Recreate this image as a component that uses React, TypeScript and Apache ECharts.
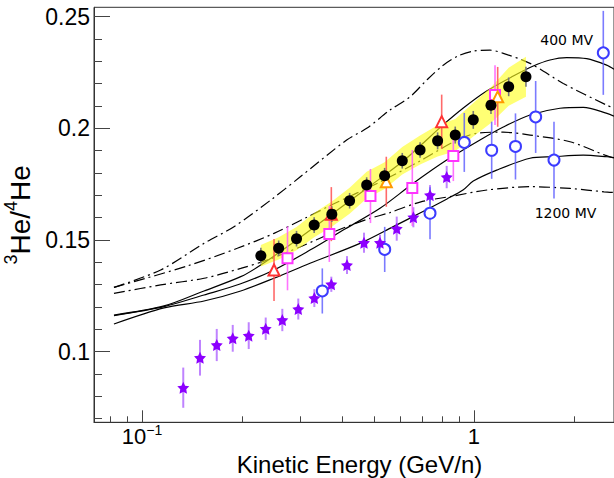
import { useEffect, useRef } from 'react';
import * as echarts from 'echarts';

// ---------- axis ranges & ticks ----------
const X_MIN = 0.07166;
const X_MAX = 2.641;
const Y_MIN = 0.0684;
const Y_MAX = 0.2542;
const X_MAJOR = [0.1, 1];
const X_MINOR = [0.08, 0.09, 0.2, 0.3, 0.4, 0.5, 0.6, 0.7, 0.8, 0.9, 2];
const Y_MAJOR = [0.1, 0.15, 0.2, 0.25];
const Y_MINOR = [0.07, 0.08, 0.09, 0.11, 0.12, 0.13, 0.14, 0.16, 0.17, 0.18, 0.19, 0.21, 0.22, 0.23, 0.24];

// ---------- black points with yellow band ----------
const blackE = [0.228, 0.258, 0.292, 0.33, 0.373, 0.422, 0.475, 0.538, 0.608, 0.688, 0.777, 0.878, 0.995, 1.125, 1.272, 1.434];
const blackV = [0.143, 0.1463, 0.1506, 0.1567, 0.1616, 0.1676, 0.1746, 0.1788, 0.1855, 0.1903, 0.1944, 0.197, 0.2038, 0.2104, 0.2186, 0.2231];
const blackStat = [0.0035, 0.0035, 0.0035, 0.0035, 0.0035, 0.0035, 0.0035, 0.0035, 0.0035, 0.0035, 0.0038, 0.0038, 0.004, 0.004, 0.0042, 0.0045];
const blackBand = [0.0048, 0.005, 0.0052, 0.0054, 0.0056, 0.0058, 0.006, 0.006, 0.0062, 0.0065, 0.007, 0.0072, 0.0075, 0.008, 0.0085, 0.009];

// ---------- violet stars ----------
const starE = [0.1331, 0.1495, 0.1679, 0.1876, 0.2096, 0.2358, 0.2646, 0.2956, 0.3304, 0.3717, 0.4144, 0.4663, 0.521, 0.5851, 0.6567, 0.7371, 0.8275];
const starV = [0.0839, 0.0973, 0.103, 0.106, 0.1072, 0.1103, 0.1142, 0.1191, 0.124, 0.1302, 0.1388, 0.1488, 0.1488, 0.1551, 0.1602, 0.1701, 0.1782];
const starErr = [0.009, 0.008, 0.0072, 0.006, 0.006, 0.005, 0.005, 0.0047, 0.004, 0.0034, 0.004, 0.0045, 0.0036, 0.0054, 0.0045, 0.0045, 0.005];

// ---------- blue open circles ----------
const blueE = [0.3492, 0.5383, 0.7371, 0.9349, 1.1305, 1.3335, 1.5339, 1.7418, 2.4521];
const blueV = [0.1272, 0.1458, 0.162, 0.1937, 0.1902, 0.1919, 0.2051, 0.1858, 0.2338];
const blueErr = [0.0101, 0.0101, 0.0116, 0.0132, 0.0128, 0.0148, 0.0161, 0.0172, 0.0188];

// ---------- magenta open squares ----------
const pinkE = [0.2743, 0.3666, 0.4877, 0.6519, 0.8665, 1.157];
const pinkV = [0.1418, 0.1527, 0.1697, 0.1733, 0.1876, 0.2149];
const pinkErr = [0.0143, 0.0125, 0.0121, 0.017, 0.0112, 0.0134];

// ---------- red / orange open triangles ----------
const redE = [0.2498, 0.3717, 0.7992];
const redV = [0.1366, 0.1616, 0.203];
const redErr = [0.0139, 0.0121, 0.0121];
const orangeE = [0.5443, 1.1786];
const orangeV = [0.1761, 0.2141];
const orangeErr = [0.0112, 0.0134];

// ---------- model curves ----------
const d1E = [0.0823, 0.1138, 0.1537, 0.1892, 0.2442, 0.2991, 0.4135, 0.4751, 0.5584, 0.6415, 0.7203, 0.8082, 0.895, 0.9952, 1.1174, 1.2255, 1.4749, 1.8578, 2.51, 2.641];
const d1V = [0.1288, 0.1366, 0.1485, 0.156, 0.1679, 0.1782, 0.1948, 0.2, 0.2082, 0.2141, 0.2216, 0.2283, 0.2324, 0.2346, 0.235, 0.2336, 0.2291, 0.2201, 0.2104, 0.2091];
const d2E = [0.0823, 0.1369, 0.1936, 0.2498, 0.3097, 0.377, 0.521, 0.6878, 0.8766, 1.0189, 1.2227, 1.4749, 1.9466, 2.4809, 2.641];
const d2V = [0.1288, 0.1384, 0.1463, 0.153, 0.1598, 0.1661, 0.176, 0.1854, 0.1943, 0.1978, 0.1983, 0.197, 0.194, 0.188, 0.1867];
const d3E = [0.0823, 0.1138, 0.1537, 0.1983, 0.2375, 0.2991, 0.4039, 0.4861, 0.5584, 0.6878, 0.8644, 1.0943, 1.4749, 1.9466, 2.464, 2.641];
const d3V = [0.1261, 0.1299, 0.1329, 0.1373, 0.141, 0.1469, 0.1554, 0.1597, 0.1623, 0.167, 0.1697, 0.1724, 0.1739, 0.1731, 0.1716, 0.1713];
const s1E = [0.0823, 0.1165, 0.1537, 0.1983, 0.2278, 0.2924, 0.377, 0.4861, 0.6068, 0.6878, 0.7993, 0.9285, 1.092, 1.3135, 1.509, 1.694, 1.9023, 2.1856, 2.51, 2.641];
const s1V = [0.1164, 0.1205, 0.1272, 0.1336, 0.1388, 0.15, 0.1621, 0.1742, 0.1849, 0.1921, 0.201, 0.2091, 0.2167, 0.2234, 0.2279, 0.2306, 0.2317, 0.2312, 0.2283, 0.2265];
const s2E = [0.0823, 0.1165, 0.1537, 0.1973, 0.2498, 0.3206, 0.4087, 0.521, 0.6564, 0.8275, 1.0425, 1.2255, 1.4749, 1.8155, 2.1346, 2.5154, 2.641];
const s2V = [0.1162, 0.1202, 0.1254, 0.1303, 0.1366, 0.1455, 0.1549, 0.1642, 0.1754, 0.1858, 0.1948, 0.2006, 0.206, 0.209, 0.2094, 0.2067, 0.2055];
const s3E = [0.0823, 0.1165, 0.1537, 0.1983, 0.2498, 0.3206, 0.4535, 0.5713, 0.6878, 0.8292, 0.9266, 0.9952, 1.1706, 1.4749, 1.7334, 2.1346, 2.5154, 2.641];
const s3V = [0.1124, 0.1196, 0.1227, 0.1272, 0.1329, 0.1396, 0.1485, 0.156, 0.1621, 0.1684, 0.1724, 0.1764, 0.1813, 0.1866, 0.1873, 0.188, 0.1873, 0.1869];

const FONT = "'Liberation Sans', Arial, Helvetica, sans-serif";
const STAR = 'path://M0,-10 L2.94,-4.05 L9.51,-3.09 L4.76,1.55 L5.88,8.09 L0,5 L-5.88,8.09 L-4.76,1.55 L-9.51,-3.09 L-2.94,-4.05 Z';

const pairs = (xs: number[], ys: number[]) => xs.map((x, i) => [x, ys[i]]);
const triples = (xs: number[], ys: number[], es: number[]) => xs.map((x, i) => [x, ys[i], es[i]]);

function errorBars(xs: number[], ys: number[], es: number[], color: string, width: number) {
  return {
    type: 'custom',
    coordinateSystem: 'cartesian2d',
    xAxisIndex: 0,
    yAxisIndex: 0,
    data: triples(xs, ys, es),
    encode: { x: 0, y: 1 },
    silent: true,
    z: 4,
    renderItem: (_p: any, api: any) => {
      const x = api.value(0);
      const y = api.value(1);
      const e = api.value(2);
      const lo = api.coord([x, y - e]);
      const hi = api.coord([x, y + e]);
      return {
        type: 'line',
        shape: { x1: lo[0], y1: lo[1], x2: hi[0], y2: hi[1] },
        style: { stroke: color, lineWidth: width },
      };
    },
  };
}

function curve(xs: number[], ys: number[], dashed: boolean) {
  return {
    type: 'line',
    xAxisIndex: 0,
    yAxisIndex: 0,
    data: pairs(xs, ys),
    showSymbol: false,
    symbol: 'none',
    smooth: 0.3,
    silent: true,
    z: 2,
    lineStyle: { color: '#000', width: 1.2, type: dashed ? [11, 4, 2, 4] : 'solid' },
  };
}

function markers(xs: number[], ys: number[], symbol: string, size: number, color: string, bw = 1) {
  return {
    type: 'scatter',
    xAxisIndex: 0,
    yAxisIndex: 0,
    data: pairs(xs, ys),
    symbol,
    symbolSize: size,
    silent: true,
    z: 5,
    itemStyle: { color, borderWidth: bw, opacity: 1 },
  };
}

export default function App() {
  const ref = useRef<HTMLDivElement>(null);
  useEffect(() => {
    if (!ref.current) return;
    const chart = echarts.init(ref.current, null, { renderer: 'svg' });
    const option: any = {
      animation: false,
      backgroundColor: '#fff',
      grid: {
        left: 94,
        right: 0,
        top: 7.3,
        bottom: 55.7,
        show: true,
        borderColor: '#333',
        borderWidth: 1,
        containLabel: false,
        outerBoundsMode: 'none',
      },
      xAxis: [
        {
          type: 'log',
          logBase: 10,
          min: X_MIN,
          max: X_MAX,
          position: 'bottom',
          axisLine: { show: true, lineStyle: { color: '#333', width: 1 } },
          axisTick: { show: true, inside: true, length: 12, customValues: X_MAJOR, lineStyle: { color: '#444' } },
          axisLabel: {
            show: true,
            customValues: X_MAJOR,
            margin: 1,
            color: '#000',
            formatter: (v: number) => (v < 0.5 ? '{b|10}{s|\u22121}' : '{b|1}'),
            rich: {
              b: { fontSize: 22, lineHeight: 22, fontFamily: FONT, color: '#000', padding: [5, 0, 0, 0] },
              s: { fontSize: 14, lineHeight: 14, fontFamily: FONT, color: '#000', verticalAlign: 'top' },
            },
          },
          splitLine: { show: false },
          name: 'Kinetic Energy (GeV/n)',
          nameLocation: 'middle',
          nameGap: 27,
          nameTextStyle: { fontSize: 24, lineHeight: 24, fontFamily: FONT, color: '#000', padding: [0, 0, 0, 11] },
        },
        {
          type: 'log',
          logBase: 10,
          min: X_MIN,
          max: X_MAX,
          position: 'bottom',
          axisLine: { show: false },
          axisTick: { show: true, inside: true, length: 6, customValues: X_MINOR, lineStyle: { color: '#444' } },
          axisLabel: { show: false },
          splitLine: { show: false },
        },
      ],
      yAxis: [
        {
          type: 'value',
          min: Y_MIN,
          max: Y_MAX,
          position: 'left',
          axisLine: { show: true, lineStyle: { color: '#333', width: 1 } },
          axisTick: { show: true, inside: true, length: 16, customValues: Y_MAJOR, lineStyle: { color: '#444' } },
          axisLabel: {
            show: true,
            customValues: Y_MAJOR,
            margin: 4,
            fontSize: 23,
            fontFamily: FONT,
            color: '#000',
            formatter: (v: number) => String(parseFloat(v.toFixed(2))),
          },
          splitLine: { show: false },
          name: '{s|3}{b|He/}{s|4}{b|He}',
          nameLocation: 'middle',
          nameRotate: 90,
          nameGap: 48,
          nameTextStyle: {
            rich: {
              b: { fontSize: 28, lineHeight: 28, fontFamily: FONT, color: '#000', padding: [8, 0, 0, 0] },
              s: { fontSize: 18, lineHeight: 18, fontFamily: FONT, color: '#000', verticalAlign: 'top' },
            },
          },
        },
        {
          type: 'value',
          min: Y_MIN,
          max: Y_MAX,
          position: 'left',
          axisLine: { show: false },
          axisTick: { show: true, inside: true, length: 8, customValues: Y_MINOR, lineStyle: { color: '#444' } },
          axisLabel: { show: false },
          splitLine: { show: false },
        },
      ],
      graphic: [
        {
          type: 'text',
          x: 566.7,
          y: 40,
          silent: true,
          style: { text: '400 MV', font: "14px 'DejaVu Sans'", fill: '#000', align: 'center', verticalAlign: 'middle' },
        },
        {
          type: 'text',
          x: 565.5,
          y: 213.3,
          silent: true,
          style: { text: '1200 MV', font: "14px 'DejaVu Sans'", fill: '#000', align: 'center', verticalAlign: 'middle' },
        },
      ],
      series: [
        curve(d1E, d1V, true),
        curve(d2E, d2V, true),
        curve(d3E, d3V, true),
        curve(s1E, s1V, false),
        curve(s2E, s2V, false),
        curve(s3E, s3V, false),
        {
          type: 'custom',
          coordinateSystem: 'cartesian2d',
          xAxisIndex: 0,
          yAxisIndex: 0,
          data: triples(blackE, blackV, blackBand),
          encode: { x: 0, y: 1 },
          silent: true,
          z: 3,
          renderItem: (p: any, api: any) => {
            if (p.dataIndex !== 0) return { type: 'group', children: [] };
            const upper = blackE.map((x, i) => api.coord([x, blackV[i] + blackBand[i]]));
            const lower = blackE.map((x, i) => api.coord([x, blackV[i] - blackBand[i]])).reverse();
            return {
              type: 'polygon',
              shape: { points: upper.concat(lower) },
              style: { fill: 'rgba(255,255,30,0.62)', stroke: 'none' },
            };
          },
        },
        errorBars(starE, starV, starErr, 'rgba(170,90,255,0.75)', 2),
        errorBars(blueE, blueV, blueErr, 'rgba(90,90,255,0.8)', 1.6),
        errorBars(pinkE, pinkV, pinkErr, 'rgba(255,90,255,0.85)', 1.6),
        errorBars(redE, redV, redErr, 'rgba(255,80,80,0.85)', 1.6),
        errorBars(orangeE, orangeV, orangeErr, 'rgba(255,80,80,0.85)', 1.6),
        errorBars(blackE, blackV, blackStat, '#777', 1.6),
        markers(pinkE, pinkV, 'emptyRect', 10, '#ff33ff'),
        markers(redE, redV, 'emptyTriangle', 11, '#ff3333'),
        markers(orangeE, orangeV, 'emptyTriangle', 11, '#ff9900'),
        markers(blueE, blueV, 'emptyCircle', 11, '#3c3cff'),
        markers(starE, starV, STAR, 12, '#8c00ff', 0),
        markers(blackE, blackV, 'circle', 11, '#000', 0),
      ],
    };
    chart.setOption(option);
    return () => chart.dispose();
  }, []);
  return (
    <div
      ref={ref}
      style={{ position: 'fixed', left: 0, top: 0, width: 614, height: 478, background: '#fff' }}
    />
  );
}
